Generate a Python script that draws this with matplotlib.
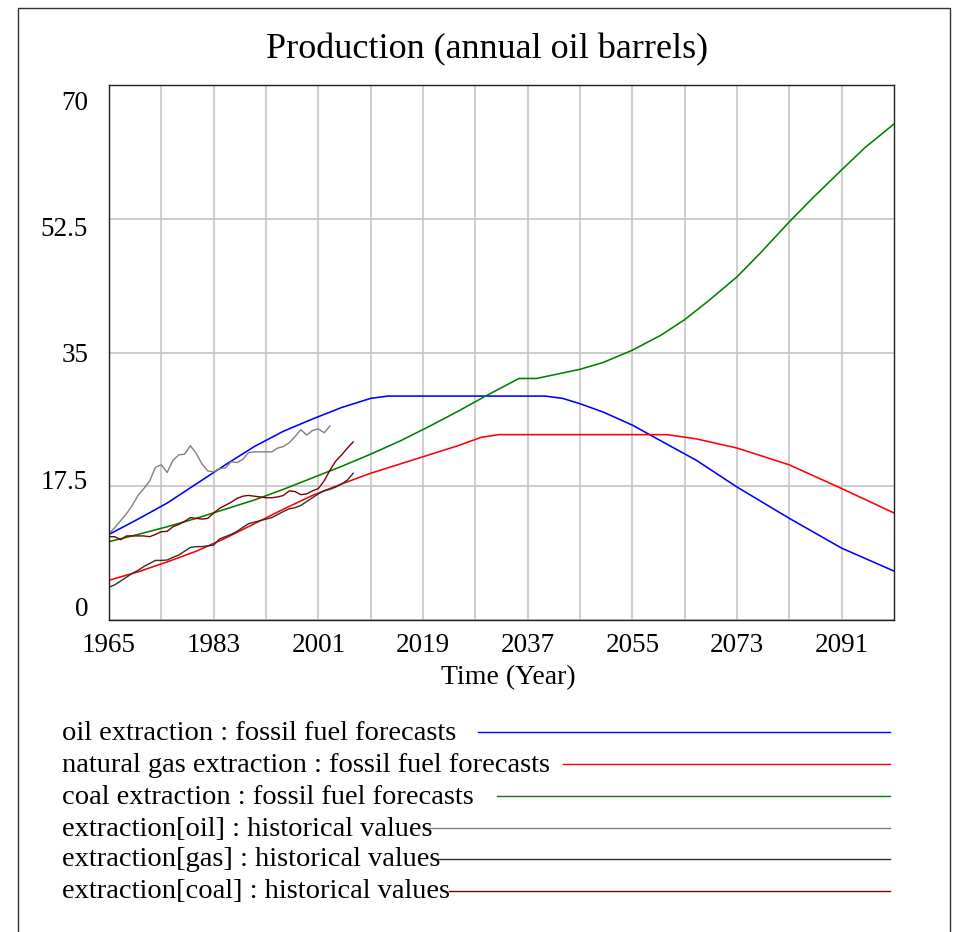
import matplotlib
matplotlib.use("Agg")
import matplotlib.pyplot as plt
from matplotlib.lines import Line2D
from matplotlib.patches import Rectangle
from matplotlib.transforms import ScaledTranslation

plt.rcParams['font.family'] = ['Liberation Serif', 'DejaVu Serif']

# --- forecast curves ---
oil_years = [1965, 1970, 1975, 1980, 1985, 1990, 1995, 2000, 2005, 2010, 2013,
             2040, 2043, 2046, 2050, 2055, 2060, 2066, 2073, 2082, 2091, 2100]
oil_fc = [11.2, 13.2, 15.3, 17.8, 20.3, 22.7, 24.7, 26.3, 27.8, 29.0, 29.3,
          29.3, 29.0, 28.3, 27.2, 25.5, 23.4, 20.9, 17.4, 13.3, 9.4, 6.4]

gas_years = [1965, 1970, 1975, 1980, 1985, 1990, 1995, 2000, 2005, 2010, 2015,
             2020, 2025, 2029, 2032, 2061, 2066, 2073, 2082, 2091, 2100]
gas_fc = [5.2, 6.3, 7.6, 9.0, 10.7, 12.6, 14.5, 16.3, 17.8, 19.2, 20.4,
          21.6, 22.8, 23.9, 24.25, 24.25, 23.7, 22.5, 20.3, 17.2, 14.0]

coal_years = [1965, 1970, 1975, 1980, 1985, 1990, 1995, 2000, 2005, 2010, 2015,
              2020, 2025, 2030, 2035.5, 2038.5, 2041, 2046, 2050, 2055, 2060,
              2064, 2068, 2073, 2077, 2082, 2086, 2091, 2095, 2100]
coal_fc = [10.25, 11.2, 12.2, 13.3, 14.5, 15.7, 17.1, 18.6, 20.1, 21.7, 23.4,
           25.3, 27.3, 29.4, 31.6, 31.6, 32.0, 32.8, 33.7, 35.3, 37.3,
           39.3, 41.7, 44.9, 48.0, 52.1, 55.2, 58.9, 61.8, 64.9]

# --- historical values ---
hist_oil_years = list(range(1965, 2004))
hist_oil = [11.3, 12.1, 13.0, 13.9, 15.0, 16.3, 17.2, 18.2, 20.0, 20.3,
            19.3, 20.9, 21.6, 21.7, 22.8, 21.8, 20.4, 19.5, 19.4, 19.8,
            19.9, 20.7, 20.6, 21.0, 21.9, 22.0, 22.0, 22.0, 22.0, 22.5,
            22.7, 23.2, 24.0, 24.9, 24.2, 24.8, 25.0, 24.5, 25.4]

hist_years = list(range(1965, 2008))
hist_gas = [4.3, 4.6, 5.1, 5.6, 6.1, 6.5, 7.0, 7.4, 7.8, 7.8,
            7.85, 8.2, 8.5, 9.0, 9.5, 9.6, 9.6, 9.7, 9.8, 10.6,
            10.9, 11.2, 11.6, 12.1, 12.6, 12.8, 13.0, 13.2, 13.4, 13.8,
            14.2, 14.55, 14.7, 15.0, 15.5, 16.0, 16.5, 16.9, 17.1, 17.4,
            17.8, 18.3, 19.2]
hist_coal = [10.9, 10.9, 10.5, 11.0, 11.0, 11.0, 11.0, 10.9, 11.2, 11.55,
             11.6, 12.2, 12.5, 12.9, 13.4, 13.3, 13.2, 13.3, 14.0, 14.6,
             15.0, 15.4, 15.9, 16.2, 16.3, 16.2, 16.1, 16.0, 16.0, 16.1,
             16.3, 16.9, 16.8, 16.4, 16.5, 16.9, 17.2, 18.2, 19.6, 20.8,
             21.6, 22.5, 23.3]

labels = ["oil extraction : fossil fuel forecasts",
          "natural gas extraction : fossil fuel forecasts",
          "coal extraction : fossil fuel forecasts",
          "extraction[oil] : historical values",
          "extraction[gas] : historical values",
          "extraction[coal] : historical values"]
colors = ["#0000ff", "#ff0000", "#008000", "#808080", "#303030", "#800000"]
y_ticks = [0, 17.5, 35, 52.5, 70]
y_ticklabels = ["0", "17.5", "35", "52.5", "70"]

W, H = 959, 932
fig = plt.figure(figsize=(W / 100, H / 100), dpi=100)
ax = fig.add_axes([109 / W, 1 - 620 / H, (894 - 109) / W, (620 - 85) / H])

ax.plot(oil_years, oil_fc, color=colors[0], lw=1.15)
ax.plot(gas_years, gas_fc, color=colors[1], lw=1.15)
ax.plot(coal_years, coal_fc, color=colors[2], lw=1.15)
ax.plot(hist_oil_years, hist_oil, color=colors[3], lw=1.0)
ax.plot(hist_years, hist_gas, color=colors[4], lw=1.0)
ax.plot(hist_years, hist_coal, color=colors[5], lw=1.0)

ax.set_xlim(1965, 2100)
ax.set_ylim(0, 70)
ax.set_xticks(range(1965, 2100, 18))
ax.set_xticks(range(1974, 2100, 18), minor=True)
ax.set_yticks(y_ticks)
ax.set_yticklabels(y_ticklabels)
ax.grid(True, which='both', axis='x', color='#d0d0d0', lw=1.5)
ax.grid(True, axis='y', color='#c4c4c4', lw=1.2)
ax.set_axisbelow(True)
ax.tick_params(axis='both', which='both', length=0, labelsize=19.5)
ax.tick_params(axis='y', pad=15)
ax.tick_params(axis='x', pad=9)
for sp in ax.spines.values():
    sp.set_color('#202020')
    sp.set_linewidth(1.0)

# y labels sit spread inside the axis range, as in the original tool
y_shift = [14, 7, 0, -8, -15]  # pixels, positive = up
for lbl, dy in zip(ax.get_yticklabels(), y_shift):
    lbl.set_transform(lbl.get_transform() + ScaledTranslation(0, dy / 100, fig.dpi_scale_trans))

fig.text(487 / W, 1 - 50 / H, "Production (annual oil barrels)",
         ha='center', va='center', fontsize=26)
fig.text(508 / W, 1 - 678 / H, "Time (Year)", ha='center', va='center', fontsize=20)

# legend rows
row_y = [733, 765, 797, 829, 860, 892]
line_x0 = [478, 563, 497, 425, 437, 449]
for lab, c, yy, x0 in zip(labels, colors, row_y, line_x0):
    fig.text(62 / W, 1 - yy / H, lab, ha='left', va='center', fontsize=20.5)
    fig.add_artist(Line2D([x0 / W, 890 / W], [1 - (yy - 1) / H, 1 - (yy - 1) / H],
                          transform=fig.transFigure, color=c, lw=1.0))

# outer frame
fig.add_artist(Rectangle((18 / W, -0.05), (950 - 18) / W, 1.05 - 8 / H,
                         transform=fig.transFigure, fill=False,
                         ec='#333333', lw=1.0))

fig.savefig("out.png", dpi=100)
